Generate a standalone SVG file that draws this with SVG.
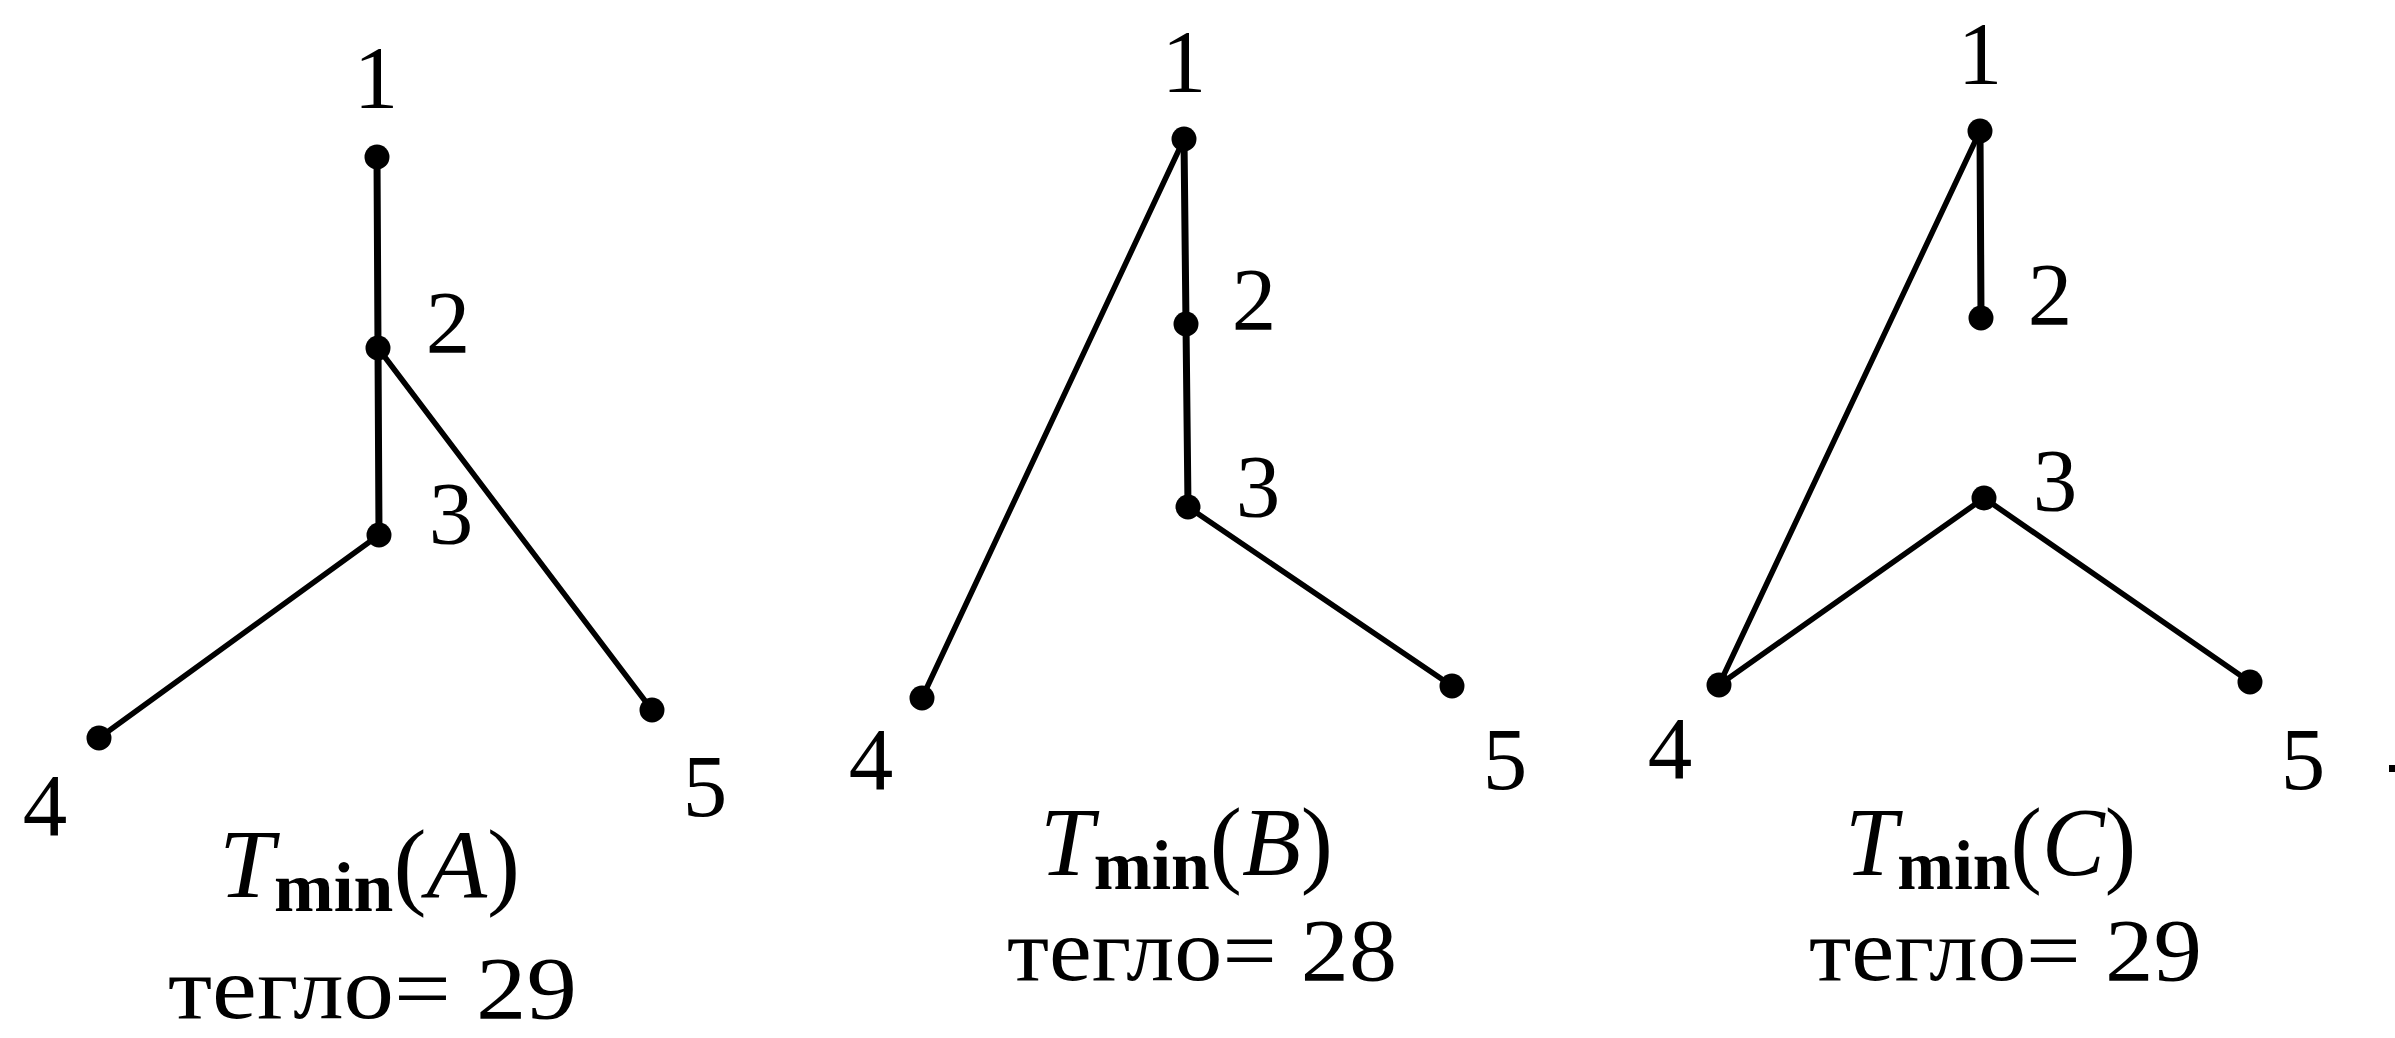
<svg xmlns="http://www.w3.org/2000/svg" width="2395" height="1038" viewBox="0 0 2395 1038">
<style>
.e{stroke:#000;stroke-width:5.5;stroke-linecap:round;fill:none}
.v{stroke-width:7}
.n{fill:#000}
.lb{font-family:"Liberation Serif","Times New Roman",serif;font-size:89px;fill:#000;text-anchor:middle}
.cap{font-family:"Liberation Serif","Times New Roman",serif;font-size:97px;fill:#000}
.it{font-style:italic}
.sub{font-size:70px;font-weight:bold}
.w{font-family:"Liberation Serif","Times New Roman",serif;font-size:89px;fill:#000}
</style>
<rect width="2395" height="1038" fill="#fff"/>
<g id="connectors">
<line class="e v" x1="377" y1="157" x2="378" y2="348"/>
<line class="e v" x1="378" y1="348" x2="379" y2="535"/>
<line class="e" x1="378" y1="348" x2="652" y2="710"/>
<line class="e" x1="379" y1="535" x2="99" y2="738"/>
<line class="e v" x1="1184" y1="139" x2="1186" y2="324"/>
<line class="e v" x1="1186" y1="324" x2="1188" y2="507"/>
<line class="e" x1="1184" y1="139" x2="922" y2="698"/>
<line class="e" x1="1188" y1="507" x2="1452" y2="686"/>
<line class="e v" x1="1980" y1="131" x2="1981" y2="318"/>
<line class="e" x1="1980" y1="131" x2="1719" y2="685"/>
<line class="e" x1="1984" y1="498" x2="1719" y2="685"/>
<line class="e" x1="1984" y1="498" x2="2250" y2="682"/>
</g>
<g id="A1"><circle class="n" cx="377" cy="157" r="12.5"/><text class="lb" x="376" y="107">1</text></g>
<g id="A2"><circle class="n" cx="378" cy="348" r="12.5"/><text class="lb" x="448" y="352">2</text></g>
<g id="A3"><circle class="n" cx="379" cy="535" r="12.5"/><text class="lb" x="451" y="543">3</text></g>
<g id="A4"><circle class="n" cx="99" cy="738" r="12.5"/><text class="lb" x="45" y="835">4</text></g>
<g id="A5"><circle class="n" cx="652" cy="710" r="12.5"/><text class="lb" x="705" y="816">5</text></g>
<g id="captionA">
<text class="cap" x="219" y="897" textLength="301" lengthAdjust="spacingAndGlyphs"><tspan class="it">T</tspan><tspan class="sub" dy="14">min</tspan><tspan dy="-14">(</tspan><tspan class="it">A</tspan>)</text>
<text class="w" x="168" y="1018" textLength="409" lengthAdjust="spacingAndGlyphs">тегло= 29</text>
</g>
<g id="B1"><circle class="n" cx="1184" cy="139" r="12.5"/><text class="lb" x="1184" y="91">1</text></g>
<g id="B2"><circle class="n" cx="1186" cy="324" r="12.5"/><text class="lb" x="1254" y="329">2</text></g>
<g id="B3"><circle class="n" cx="1188" cy="507" r="12.5"/><text class="lb" x="1258" y="516">3</text></g>
<g id="B4"><circle class="n" cx="922" cy="698" r="12.5"/><text class="lb" x="871" y="789">4</text></g>
<g id="B5"><circle class="n" cx="1452" cy="686" r="12.5"/><text class="lb" x="1505" y="789">5</text></g>
<g id="captionB">
<text class="cap" x="1040" y="875" textLength="293" lengthAdjust="spacingAndGlyphs"><tspan class="it">T</tspan><tspan class="sub" dy="14">min</tspan><tspan dy="-14">(</tspan><tspan class="it">B</tspan>)</text>
<text class="w" x="1007" y="980" textLength="390" lengthAdjust="spacingAndGlyphs">тегло= 28</text>
</g>
<g id="C1"><circle class="n" cx="1980" cy="131" r="12.5"/><text class="lb" x="1980" y="83">1</text></g>
<g id="C2"><circle class="n" cx="1981" cy="318" r="12.5"/><text class="lb" x="2050" y="324">2</text></g>
<g id="C3"><circle class="n" cx="1984" cy="498" r="12.5"/><text class="lb" x="2055" y="510">3</text></g>
<g id="C4"><circle class="n" cx="1719" cy="685" r="12.5"/><text class="lb" x="1670" y="778">4</text></g>
<g id="C5"><circle class="n" cx="2250" cy="682" r="12.5"/><text class="lb" x="2303" y="789">5</text></g>
<g id="captionC">
<text class="cap" x="1845" y="875" textLength="291" lengthAdjust="spacingAndGlyphs"><tspan class="it">T</tspan><tspan class="sub" dy="14">min</tspan><tspan dy="-14">(</tspan><tspan class="it">C</tspan>)</text>
<text class="w" x="1809" y="980" textLength="393" lengthAdjust="spacingAndGlyphs">тегло= 29</text>
</g>
<rect x="2389" y="765" width="6" height="7" fill="#000"/>
</svg>
